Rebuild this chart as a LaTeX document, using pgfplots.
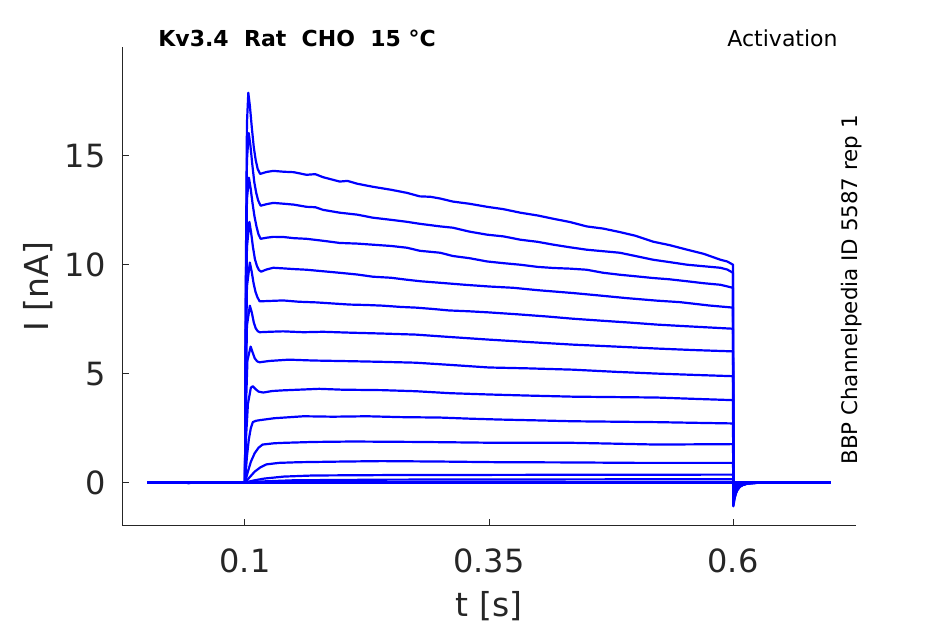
\documentclass[border=0pt]{standalone}
\usepackage{fontspec}
\setmainfont{DejaVu Sans}
\usepackage{pgfplots}
\pgfplotsset{compat=1.18}
\definecolor{axisgray}{RGB}{38,38,38}
\definecolor{trace}{RGB}{0,0,255}
\tikzset{tr/.style={draw=trace, solid, line width=1.1pt, mark=none, line join=round}}
\begin{document}
\begin{tikzpicture}
\path[use as bounding box] (-61pt,-49pt) rectangle (411.5pt,263pt);
\begin{axis}[
  at={(0,0)}, anchor=south west,
  scale only axis, width=367pt, height=239.5pt,
  xmin=-0.026, xmax=0.726, ymin=-2, ymax=20,
  axis x line*=bottom, axis y line*=left,
  axis line style={-, draw=axisgray, line width=0.5pt},
  xtick={0.1,0.35,0.6}, xticklabels={0.1,0.35,0.6},
  ytick={0,5,10,15}, yticklabels={0,5,10,15},
  tick align=inside, major tick length=3.5pt,
  tick style={draw=axisgray, line width=0.5pt},
  every tick label/.append style={inner sep=0pt, text=axisgray, font=\fontsize{16}{19}\selectfont},
  xticklabel style={anchor=north, yshift=-11.2pt},
  yticklabel style={anchor=east, xshift=-8pt},
  xlabel={t [s]}, ylabel={I [nA]},
  label style={text=axisgray, font=\fontsize{16.5}{19}\selectfont, inner sep=0pt},
  xlabel style={at={(axis description cs:0.5,-0.1892)}, anchor=base},
  ylabel style={at={(axis description cs:-0.0995,0.5)}, anchor=base},
  clip=false,
]
% trace 1
\addplot[tr] coordinates {(0,0)(0.04,0)(0.042,-0.04)(0.046,0)(0.1,0)(0.1008,9)(0.102,16.5)(0.1034,17.9)(0.105,17.3)(0.107,16.3)(0.109,15.4)(0.111,14.8)(0.113,14.4)(0.1155,14.17)(0.122,14.26)(0.129,14.31)(0.14,14.27)(0.15,14.25)(0.163,14.13)(0.172,14.16)(0.18,14.02)(0.197,13.82)(0.205,13.85)(0.215,13.72)(0.231,13.58)(0.25,13.44)(0.266,13.3)(0.279,13.14)(0.29,13.12)(0.3,13.04)(0.313,12.9)(0.33,12.8)(0.348,12.66)(0.365,12.55)(0.382,12.39)(0.4,12.26)(0.416,12.11)(0.433,11.96)(0.45,11.76)(0.467,11.66)(0.484,11.5)(0.5,11.33)(0.518,11.06)(0.535,10.9)(0.553,10.69)(0.57,10.5)(0.587,10.23)(0.594,10.15)(0.6,10.0)(0.6003,-1.1)(0.6015,-0.75)(0.603,-0.5)(0.6045,-0.35)(0.607,-0.2)(0.61,-0.12)(0.615,-0.05)(0.63,0)(0.7,0)};
% trace 2
\addplot[tr] coordinates {(0,0)(0.1,0)(0.1008,8)(0.102,14.8)(0.1038,16.05)(0.1055,15.5)(0.1075,14.6)(0.1095,13.8)(0.1115,13.3)(0.1135,12.95)(0.116,12.71)(0.122,12.78)(0.129,12.84)(0.14,12.8)(0.15,12.76)(0.163,12.66)(0.172,12.64)(0.18,12.52)(0.197,12.39)(0.215,12.3)(0.231,12.16)(0.25,12.06)(0.266,11.97)(0.279,11.88)(0.3,11.76)(0.313,11.7)(0.33,11.52)(0.348,11.38)(0.365,11.3)(0.382,11.15)(0.4,11.05)(0.416,10.92)(0.433,10.8)(0.45,10.69)(0.467,10.62)(0.484,10.55)(0.5,10.4)(0.518,10.23)(0.535,10.12)(0.553,10.0)(0.57,9.93)(0.587,9.86)(0.594,9.78)(0.6,9.63)(0.6003,-1.06)(0.6015,-0.72)(0.603,-0.48)(0.6045,-0.34)(0.607,-0.19)(0.61,-0.12)(0.615,-0.05)(0.63,0)(0.7,0)};
% trace 3
\addplot[tr] coordinates {(0,0)(0.1,0)(0.1008,7)(0.102,13)(0.104,14.0)(0.1058,13.5)(0.1078,12.8)(0.1098,12.2)(0.1118,11.75)(0.1138,11.4)(0.116,11.19)(0.122,11.24)(0.129,11.28)(0.14,11.27)(0.15,11.22)(0.163,11.19)(0.18,11.1)(0.197,11.0)(0.215,10.97)(0.231,10.92)(0.25,10.86)(0.266,10.78)(0.279,10.64)(0.3,10.55)(0.313,10.4)(0.33,10.3)(0.348,10.15)(0.365,10.07)(0.382,10.0)(0.4,9.9)(0.416,9.85)(0.433,9.82)(0.45,9.77)(0.467,9.63)(0.484,9.54)(0.5,9.47)(0.518,9.39)(0.535,9.33)(0.553,9.24)(0.57,9.15)(0.587,9.08)(0.6,8.94)(0.6003,-0.98)(0.6015,-0.67)(0.603,-0.44)(0.6045,-0.31)(0.607,-0.18)(0.61,-0.11)(0.615,-0.04)(0.63,0)(0.7,0)};
% trace 4
\addplot[tr] coordinates {(0,0)(0.1,0)(0.1008,6)(0.102,10.8)(0.1045,11.97)(0.1062,11.5)(0.1082,10.8)(0.1102,10.25)(0.1122,9.95)(0.1142,9.76)(0.1165,9.68)(0.122,9.78)(0.129,9.86)(0.14,9.83)(0.15,9.8)(0.163,9.77)(0.18,9.7)(0.197,9.63)(0.215,9.55)(0.231,9.45)(0.25,9.4)(0.266,9.31)(0.28,9.24)(0.3,9.17)(0.325,9.08)(0.35,9.0)(0.375,8.94)(0.4,8.83)(0.436,8.7)(0.46,8.6)(0.49,8.47)(0.522,8.35)(0.546,8.28)(0.575,8.13)(0.6,8.03)(0.6003,-0.88)(0.6015,-0.6)(0.603,-0.4)(0.6045,-0.28)(0.607,-0.16)(0.61,-0.1)(0.615,-0.04)(0.63,0)(0.7,0)};
% trace 5
\addplot[tr] coordinates {(0,0)(0.1,0)(0.1008,5)(0.102,9.0)(0.105,10.1)(0.1068,9.7)(0.1088,9.15)(0.1108,8.75)(0.1128,8.5)(0.115,8.32)(0.122,8.33)(0.139,8.36)(0.155,8.3)(0.173,8.27)(0.19,8.22)(0.207,8.17)(0.225,8.15)(0.241,8.12)(0.26,8.06)(0.275,8.03)(0.292,7.97)(0.309,7.9)(0.33,7.86)(0.35,7.81)(0.38,7.72)(0.41,7.62)(0.436,7.52)(0.465,7.43)(0.495,7.34)(0.522,7.25)(0.55,7.18)(0.575,7.12)(0.6,7.06)(0.6003,-0.78)(0.6015,-0.53)(0.603,-0.35)(0.6045,-0.25)(0.607,-0.14)(0.61,-0.09)(0.615,-0.04)(0.63,0)(0.7,0)};
% trace 6
\addplot[tr] coordinates {(0,0)(0.1,0)(0.1008,4)(0.102,7.2)(0.105,8.12)(0.107,7.8)(0.109,7.35)(0.111,7.08)(0.113,6.95)(0.115,6.9)(0.125,6.92)(0.139,6.94)(0.16,6.9)(0.18,6.92)(0.207,6.88)(0.24,6.84)(0.275,6.79)(0.31,6.68)(0.35,6.56)(0.39,6.45)(0.436,6.33)(0.48,6.24)(0.522,6.15)(0.56,6.08)(0.6,6.02)(0.6003,-0.66)(0.6015,-0.45)(0.603,-0.3)(0.6045,-0.21)(0.607,-0.12)(0.61,-0.07)(0.615,-0.03)(0.63,0)(0.7,0)};
% trace 7
\addplot[tr] coordinates {(0,0)(0.1,0)(0.1008,3.2)(0.1025,5.6)(0.1058,6.24)(0.108,5.95)(0.110,5.7)(0.1125,5.56)(0.115,5.52)(0.125,5.58)(0.145,5.64)(0.17,5.6)(0.207,5.57)(0.24,5.54)(0.275,5.5)(0.31,5.4)(0.35,5.28)(0.39,5.24)(0.436,5.18)(0.48,5.08)(0.522,5.0)(0.56,4.94)(0.6,4.88)(0.6003,-0.54)(0.6015,-0.37)(0.603,-0.24)(0.6045,-0.17)(0.607,-0.1)(0.61,-0.06)(0.615,-0.02)(0.63,0)(0.7,0)};
% trace 8
\addplot[tr] coordinates {(0,0)(0.1,0)(0.101,2.0)(0.103,3.6)(0.106,4.35)(0.108,4.42)(0.111,4.28)(0.114,4.17)(0.1188,4.13)(0.128,4.2)(0.139,4.23)(0.16,4.27)(0.176,4.3)(0.2,4.26)(0.24,4.24)(0.275,4.19)(0.31,4.1)(0.35,4.04)(0.39,3.99)(0.436,3.94)(0.48,3.92)(0.522,3.9)(0.56,3.84)(0.6,3.78)(0.6003,-0.42)(0.6015,-0.28)(0.603,-0.19)(0.6045,-0.13)(0.607,-0.08)(0.61,-0.05)(0.615,-0.02)(0.63,0)(0.7,0)};
% trace 9
\addplot[tr] coordinates {(0,0)(0.1,0)(0.101,0.6)(0.102,1.2)(0.104,2.0)(0.106,2.5)(0.108,2.77)(0.111,2.83)(0.115,2.86)(0.13,2.95)(0.16,3.04)(0.19,3.02)(0.225,3.04)(0.26,3.0)(0.3,2.98)(0.33,2.93)(0.36,2.89)(0.4,2.85)(0.436,2.81)(0.48,2.79)(0.522,2.77)(0.56,2.74)(0.6,2.71)(0.6003,-0.3)(0.6015,-0.2)(0.603,-0.13)(0.6045,-0.09)(0.607,-0.05)(0.61,-0.03)(0.615,-0.01)(0.63,0)(0.7,0)};
% trace 10
\addplot[tr] coordinates {(0,0)(0.1,0)(0.103,0.5)(0.106,0.95)(0.11,1.35)(0.114,1.6)(0.118,1.74)(0.13,1.8)(0.14,1.82)(0.17,1.86)(0.21,1.88)(0.28,1.86)(0.36,1.82)(0.436,1.82)(0.48,1.78)(0.522,1.74)(0.56,1.75)(0.6,1.76)(0.6003,-0.19)(0.6015,-0.13)(0.603,-0.09)(0.6045,-0.06)(0.607,-0.03)(0.61,-0.02)(0.615,-0.01)(0.63,0)(0.7,0)};
% trace 11
\addplot[tr] coordinates {(0,0)(0.1,0)(0.105,0.25)(0.11,0.5)(0.116,0.7)(0.122,0.83)(0.135,0.9)(0.155,0.93)(0.2,0.96)(0.24,0.98)(0.3,0.96)(0.36,0.93)(0.43,0.92)(0.5,0.9)(0.6,0.9)(0.6003,-0.1)(0.603,-0.05)(0.607,-0.02)(0.615,0)(0.7,0)};
% trace 12
\addplot[tr] coordinates {(0,0)(0.1,0)(0.11,0.1)(0.12,0.18)(0.14,0.27)(0.17,0.32)(0.25,0.34)(0.4,0.35)(0.6,0.36)(0.6003,-0.04)(0.605,0)(0.7,0)};
% trace 13
\addplot[tr] coordinates {(0,0)(0.1,0)(0.12,0.05)(0.15,0.1)(0.25,0.13)(0.6,0.15)(0.6003,0)(0.7,0)};
% trace 14
\addplot[tr] coordinates {(0,0)(0.35,0)(0.7,0)};
\end{axis}
\node[anchor=base west, inner sep=0pt, font=\bfseries\fontsize{11}{13}\selectfont] at (18pt,239.7pt) {Kv3.4\ \ Rat\ \ CHO\ \ 15 °C};
\node[anchor=base east, inner sep=0pt, font=\fontsize{11}{13}\selectfont] at (358pt,239.9pt) {Activation};
\node[rotate=90, anchor=base west, inner sep=0pt, font=\fontsize{10.7}{13}\selectfont] at (367.6pt,30.5pt) {BBP Channelpedia ID 5587 rep 1};
\end{tikzpicture}
\end{document}
